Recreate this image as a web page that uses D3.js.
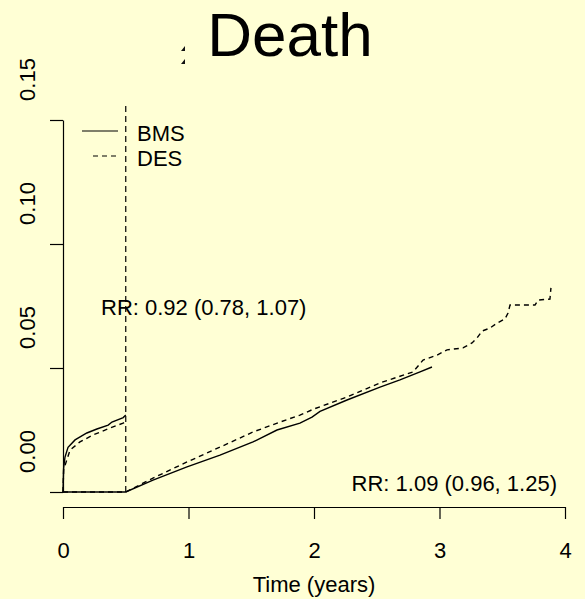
<!DOCTYPE html>
<html>
<head>
<meta charset="utf-8">
<script src="https://cdn.jsdelivr.net/npm/d3@7"></script>
<style>
  body { margin: 0; background: #FFFFD5; }
  svg { display: block; font-family: "Liberation Sans", Arial, sans-serif; }
</style>
</head>
<body>
<div id="chart"></div>
<script>
// cumulative incidence, first interval (0 - 0.5 years)
var bms1T = [0, 0.005, 0.016, 0.04, 0.096, 0.19, 0.27, 0.36, 0.39, 0.48, 0.5];
var bms1V = [0, 0.0097, 0.0141, 0.018, 0.021, 0.0238, 0.0254, 0.027, 0.0282, 0.030, 0.031];
var des1T = [0, 0.005, 0.056, 0.135, 0.24, 0.375, 0.48, 0.5];
var des1V = [0, 0.009, 0.0169, 0.0202, 0.023, 0.0258, 0.0278, 0.0282];

// landmark interval (from 0.5 years)
var bms2T = [0, 0.5, 0.717, 0.988, 1.251, 1.514, 1.705, 1.888, 1.984, 2.048, 2.263, 2.526, 2.685, 2.845, 2.94];
var bms2V = [0, 0, 0.0048, 0.0101, 0.0149, 0.0202, 0.025, 0.0278, 0.0302, 0.0325, 0.0371, 0.0423, 0.0452, 0.0484, 0.0504];
var des2T = [0, 0.5, 0.717, 0.988, 1.251, 1.514, 1.729, 1.888, 2.0, 2.263, 2.526, 2.789, 2.869, 2.98, 3.06, 3.187,
             3.259, 3.299, 3.339, 3.402, 3.458, 3.522, 3.546, 3.562, 3.761, 3.785, 3.88, 3.888];
var des2V = [0, 0, 0.0056, 0.0121, 0.0181, 0.0242, 0.0282, 0.031, 0.0335, 0.0383, 0.044, 0.0484, 0.0532, 0.0552, 0.0573, 0.0581,
             0.0601, 0.0621, 0.0649, 0.0661, 0.0681, 0.0698, 0.0722, 0.0754, 0.0754, 0.0774, 0.0778, 0.0823];

var xTicks = [0, 1, 2, 3, 4];
var yTicks = [0, 0.05, 0.10, 0.15];
var landmark = 0.5;
var rr1 = "RR: 0.92 (0.78, 1.07)";
var rr2 = "RR: 1.09 (0.96, 1.25)";
var legendNames = ["BMS", "DES"];

var w = 585, h = 599;
var fs = 22;

var svg = d3.select("#chart")
    .append("svg")
    .attr("width", w)
    .attr("height", h);

svg.append("rect")
    .attr("width", w)
    .attr("height", h)
    .attr("fill", "#FFFFD5");

var x = d3.scaleLinear().domain([0, 4]).range([63, 565]);
var y = d3.scaleLinear().domain([0, 0.15]).range([492, 120]);

// title
svg.append("text")
    .attr("x", 290)
    .attr("y", 56)
    .attr("text-anchor", "middle")
    .style("font-size", "62px")
    .text("Death");

// leftover bit of a clipped title glyph
svg.append("path")
    .attr("d", "M181,51L185,51L185,46Z M181,64L185,64L185,59Z")
    .attr("fill", "#111");

// x axis
var xAxis = svg.append("g")
    .attr("transform", "translate(0,507)")
    .call(d3.axisBottom(x).tickValues(xTicks).tickSize(12).tickSizeOuter(0).tickFormat(d3.format("d")));
xAxis.selectAll("text")
    .attr("y", 43)
    .attr("dy", "0.35em")
    .style("font-size", fs + "px")
    .attr("fill", "#000");

svg.append("text")
    .attr("x", x(2))
    .attr("y", 592)
    .attr("text-anchor", "middle")
    .style("font-size", fs + "px")
    .text("Time (years)");

// y axis (labels sit a bit above their ticks, as in the original)
var yAxis = svg.append("g")
    .attr("transform", "translate(63,0)")
    .call(d3.axisLeft(y).tickValues(yTicks).tickSize(13).tickSizeOuter(0).tickFormat(d3.format(".2f")));
yAxis.selectAll("text")
    .attr("x", 0)
    .attr("dy", 0)
    .attr("text-anchor", "middle")
    .attr("transform", "translate(-28,-41) rotate(-90)")
    .style("font-size", fs + "px")
    .attr("fill", "#000");

svg.selectAll(".domain, .tick line")
    .attr("stroke", "#000")
    .attr("stroke-width", 1.2);

// curves
var line = d3.line()
    .x(function(d) { return x(d[0]); })
    .y(function(d) { return y(d[1]); });

function pairs(t, v) {
    return t.map(function(d, i) { return [d, v[i]]; });
}

var curves = [
    { data: pairs(bms1T, bms1V), dash: null },
    { data: pairs(des1T, des1V), dash: "5,4" },
    { data: pairs(bms2T, bms2V), dash: null },
    { data: pairs(des2T, des2V), dash: "5,4" }
];

svg.selectAll(".curve")
    .data(curves)
    .enter()
    .append("path")
    .attr("class", "curve")
    .attr("d", function(d) { return line(d.data); })
    .attr("fill", "none")
    .attr("stroke", "#000")
    .attr("stroke-width", 1.4)
    .attr("stroke-dasharray", function(d) { return d.dash; });

// landmark line
svg.append("line")
    .attr("x1", x(landmark))
    .attr("x2", x(landmark))
    .attr("y1", 106)
    .attr("y2", y(0))
    .attr("stroke", "#000")
    .attr("stroke-width", 1.2)
    .attr("stroke-dasharray", "6,4");

// legend
var legend = svg.selectAll(".legend")
    .data(legendNames)
    .enter()
    .append("g")
    .attr("class", "legend")
    .attr("transform", function(d, i) { return "translate(0," + (131 + 25 * i) + ")"; });

legend.append("line")
    .attr("x1", function(d, i) { return i == 0 ? 82 : 93; })
    .attr("x2", 118)
    .attr("stroke", "#000")
    .attr("stroke-width", 1.2)
    .attr("stroke-dasharray", function(d, i) { return i == 0 ? null : "5,4"; });

legend.append("text")
    .attr("x", 137)
    .attr("y", 10)
    .style("font-size", fs + "px")
    .text(function(d) { return d; });

// relative risks
svg.append("text")
    .attr("x", 101)
    .attr("y", 315)
    .style("font-size", fs + "px")
    .text(rr1);

svg.append("text")
    .attr("x", 557)
    .attr("y", 491)
    .attr("text-anchor", "end")
    .style("font-size", fs + "px")
    .text(rr2);
</script>
</body>
</html>
